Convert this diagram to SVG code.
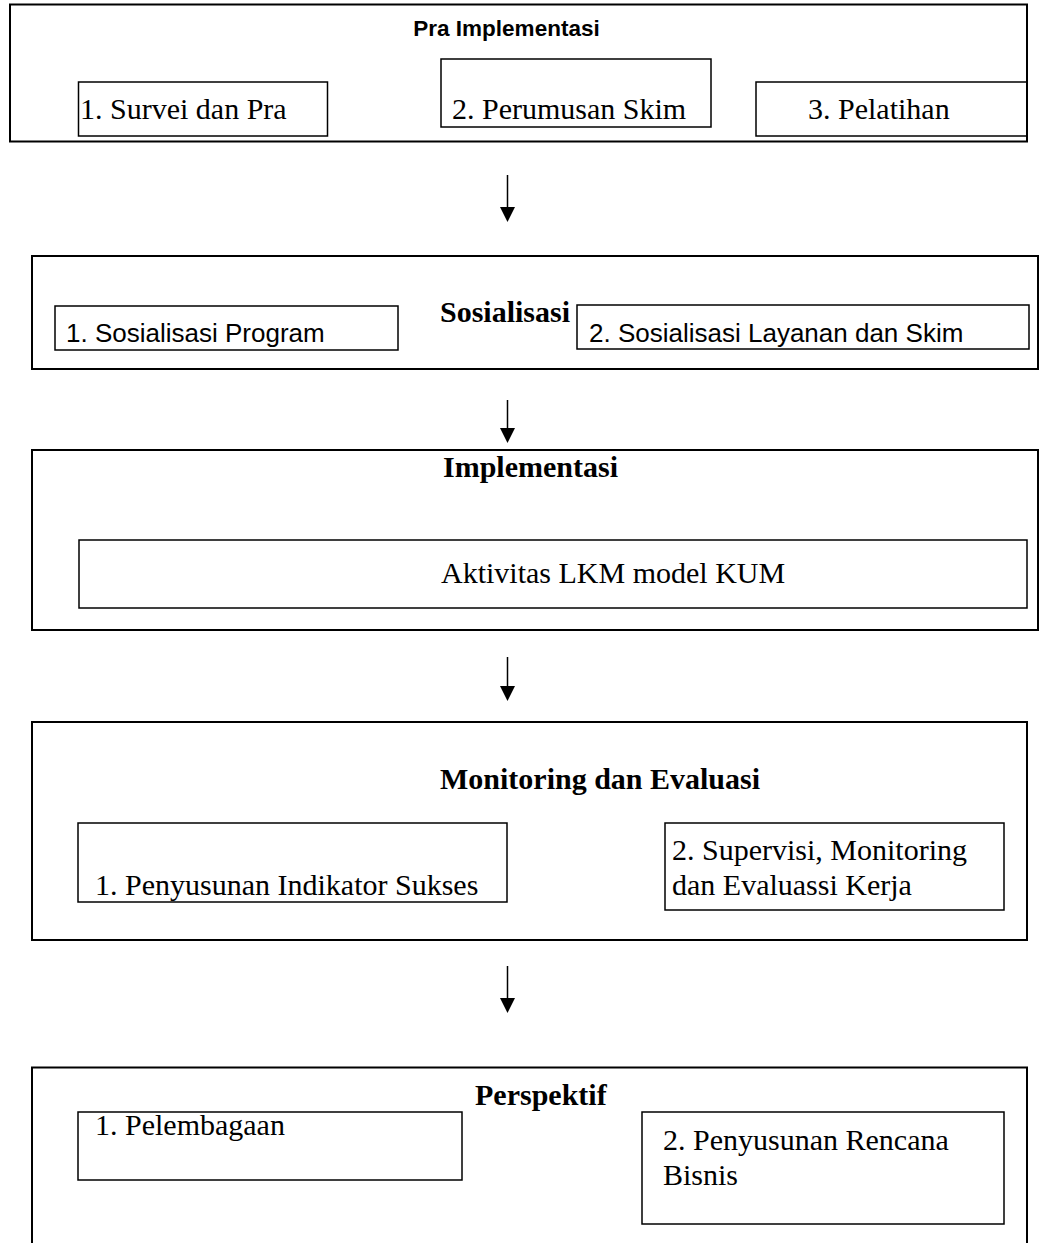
<svg xmlns="http://www.w3.org/2000/svg" width="1039" height="1243" viewBox="0 0 1039 1243">
<style>
.outer{fill:none;stroke:#000;stroke-width:2}
.inner{fill:none;stroke:#000;stroke-width:1.5}
.t{font-family:"Liberation Serif","Times New Roman",serif;font-size:30px;fill:#000}
.tb{font-family:"Liberation Serif","Times New Roman",serif;font-size:30px;font-weight:bold;fill:#000}
.s{font-family:"Liberation Sans",Arial,sans-serif;font-size:26px;fill:#000}
.sb{font-family:"Liberation Sans",Arial,sans-serif;font-size:22.5px;font-weight:bold;fill:#000}
.conn{fill:none;stroke:#000;stroke-width:1.5}
</style>
<defs>
<marker id="ah" markerWidth="16" markerHeight="16" refX="1" refY="7.5" orient="auto" markerUnits="userSpaceOnUse">
<path d="M0,0 L15,7.5 L0,15 z" fill="#000"/>
</marker>
</defs>
<rect width="1039" height="1243" fill="#fff"/>

<g id="pra-implementasi">
<rect class="outer" x="10" y="4.5" width="1017" height="137"/>
<text class="sb" x="506.5" y="36" text-anchor="middle">Pra Implementasi</text>
<rect class="inner" x="78.5" y="82" width="249" height="54"/>
<text class="t" x="80" y="119">1. Survei dan Pra</text>
<rect class="inner" x="441" y="59" width="270" height="68"/>
<text class="t" x="452" y="119">2. Perumusan Skim</text>
<rect class="inner" x="756" y="82" width="271" height="54"/>
<text class="t" x="808" y="119">3. Pelatihan</text>
</g>

<g id="sosialisasi">
<rect class="outer" x="32" y="256" width="1006" height="113"/>
<text class="tb" x="440" y="322">Sosialisasi</text>
<rect class="inner" x="55" y="306" width="343" height="44"/>
<text class="s" x="66" y="342">1. Sosialisasi Program</text>
<rect class="inner" x="577" y="305" width="452" height="44"/>
<text class="s" x="589" y="342">2. Sosialisasi Layanan dan Skim</text>
</g>

<g id="implementasi">
<rect class="outer" x="32" y="450" width="1006" height="180"/>
<text class="tb" x="443" y="477">Implementasi</text>
<rect class="inner" x="79" y="540" width="948" height="68"/>
<text class="t" x="441" y="583">Aktivitas LKM model KUM</text>
</g>

<g id="monitoring">
<rect class="outer" x="32" y="722" width="995" height="218"/>
<text class="tb" x="440" y="789">Monitoring dan Evaluasi</text>
<rect class="inner" x="78" y="823" width="429" height="79"/>
<text class="t" x="95" y="895">1. Penyusunan Indikator Sukses</text>
<rect class="inner" x="665" y="823" width="339" height="87"/>
<text class="t" x="672" y="860">2. Supervisi, Monitoring</text>
<text class="t" x="672" y="895">dan Evaluassi Kerja</text>
</g>

<g id="perspektif">
<rect class="outer" x="32" y="1067.5" width="995" height="200"/>
<text class="tb" x="475" y="1105">Perspektif</text>
<rect class="inner" x="78" y="1112" width="384" height="68"/>
<text class="t" x="95" y="1135">1. Pelembagaan</text>
<rect class="inner" x="642" y="1112" width="362" height="112"/>
<text class="t" x="663" y="1150">2. Penyusunan Rencana</text>
<text class="t" x="663" y="1185">Bisnis</text>
</g>

<g id="connectors">
<path class="conn" d="M507.5,175 V208" marker-end="url(#ah)"/>
<path class="conn" d="M507.5,400 V429" marker-end="url(#ah)"/>
<path class="conn" d="M507.5,657 V687" marker-end="url(#ah)"/>
<path class="conn" d="M507.5,966 V999" marker-end="url(#ah)"/>
</g>
</svg>
